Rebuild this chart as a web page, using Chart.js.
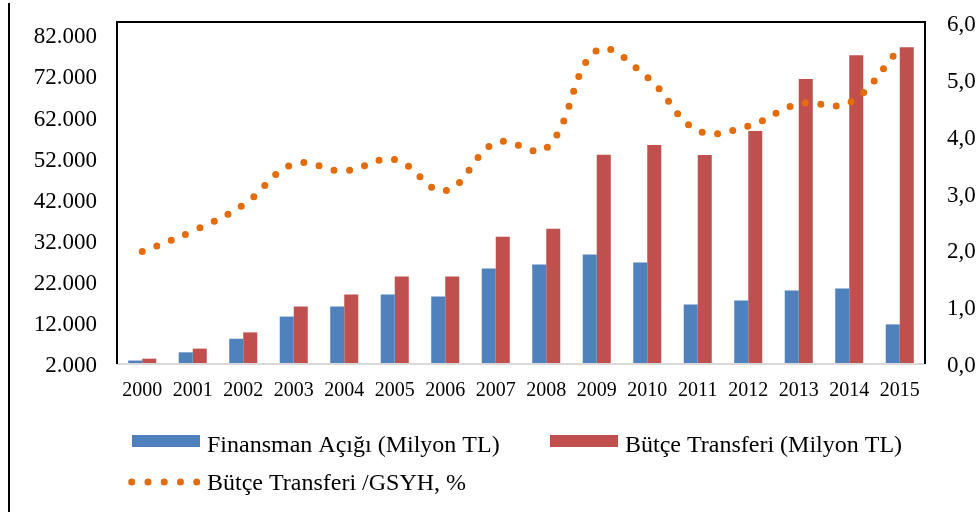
<!DOCTYPE html>
<html>
<head>
<meta charset="utf-8">
<script src="https://cdn.jsdelivr.net/npm/chart.js@4"></script>
<style>
html,body{margin:0;padding:0;background:#fff;}
#wrap{position:relative;width:979px;height:512px;}
</style>
</head>
<body>
<div id="wrap"><canvas id="c" width="979" height="512"></canvas></div>
<script>
const years = ['2000','2001','2002','2003','2004','2005','2006','2007','2008','2009','2010','2011','2012','2013','2014','2015'];
const finansmanAcigi = [2600, 4600, 7900, 13300, 15750, 18700, 18200, 25000, 26000, 28400, 26450, 16250, 17200, 19650, 20150, 11400];
const butceTransferi = [3050, 5500, 9450, 15750, 18700, 23050, 23050, 32750, 34700, 52700, 55050, 52600, 58450, 71100, 76900, 78850];
const transferGsyh = [1.96, 2.32, 2.78, 3.50, 3.38, 3.58, 3.03, 3.88, 3.78, 5.50, 5.03, 4.09, 4.17, 4.56, 4.58, 5.53];
const leftTicks = [2000, 12000, 22000, 32000, 42000, 52000, 62000, 72000, 82000];
const rightTicks = [0, 1, 2, 3, 4, 5, 6];
const seriesNames = ['Finansman Açığı (Milyon TL)', 'Bütçe Transferi (Milyon TL)', 'Bütçe Transferi /GSYH, %'];

const BLUE = '#4F81BD', RED = '#C0504D', ORANGE = '#E46C0A';
const FONT = "'Times New Roman', 'Liberation Serif', serif";

function fmtThousands(v){
  return String(Math.round(v)).replace(/\B(?=(\d{3})+(?!\d))/g, '.');
}

const framePlugin = {
  id: 'frame',
  afterDatasetsDraw(chart){
    const {ctx, chartArea: a} = chart;
    ctx.save();
    ctx.strokeStyle = '#D9D9D9';
    ctx.lineWidth = 2;
    ctx.beginPath();
    ctx.moveTo(a.left, a.bottom + 1);
    ctx.lineTo(a.right, a.bottom + 1);
    ctx.stroke();
    ctx.strokeStyle = '#000';
    ctx.lineWidth = 2;
    ctx.beginPath();
    ctx.moveTo(a.left, a.bottom + 1);
    ctx.lineTo(a.left, a.top);
    ctx.lineTo(a.right, a.top);
    ctx.lineTo(a.right, a.bottom + 1);
    ctx.stroke();
    ctx.beginPath();
    ctx.moveTo(9, 3);
    ctx.lineTo(9, 512);
    ctx.stroke();
    ctx.restore();
  },
  afterDraw(chart){
    const ctx = chart.ctx;
    const ds = chart.data.datasets;
    ctx.save();
    ctx.font = '24px ' + FONT;
    ctx.textBaseline = 'alphabetic';
    ctx.fillStyle = ds[0].backgroundColor;
    ctx.fillRect(132, 435, 68, 12);
    ctx.fillStyle = '#000';
    ctx.fillText(ds[0].label, 207, 452);
    ctx.fillStyle = ds[1].backgroundColor;
    ctx.fillRect(550, 435, 68, 12);
    ctx.fillStyle = '#000';
    ctx.fillText(ds[1].label, 625, 452);
    ctx.strokeStyle = ds[2].borderColor;
    ctx.lineWidth = 7;
    ctx.lineCap = 'round';
    ctx.setLineDash([0, 16.25]);
    ctx.beginPath();
    ctx.moveTo(131.7, 482);
    ctx.lineTo(197, 482);
    ctx.stroke();
    ctx.setLineDash([]);
    ctx.fillStyle = '#000';
    ctx.fillText(ds[2].label, 207, 489.5);
    ctx.restore();
  }
};

new Chart(document.getElementById('c'), {
  data: {
    labels: years,
    datasets: [
      {type: 'bar', label: seriesNames[0], data: finansmanAcigi, backgroundColor: BLUE, yAxisID: 'y', order: 2,
       categoryPercentage: 0.555, barPercentage: 1.0},
      {type: 'bar', label: seriesNames[1], data: butceTransferi, backgroundColor: RED, yAxisID: 'y', order: 2,
       categoryPercentage: 0.555, barPercentage: 1.0},
      {type: 'line', label: seriesNames[2], data: transferGsyh, borderColor: ORANGE, backgroundColor: ORANGE,
       yAxisID: 'y1', order: 0, borderWidth: 7, borderDash: [0, 15.6], borderCapStyle: 'round',
       pointRadius: 0, tension: 0.4, fill: false}
    ]
  },
  options: {
    responsive: false,
    animation: false,
    events: [],
    layout: {padding: {top: 22, left: 0, right: 0, bottom: 0}},
    plugins: {legend: {display: false}, tooltip: {enabled: false}},
    scales: {
      x: {
        position: 'bottom',
        offset: true,
        grid: {display: false, drawTicks: false},
        border: {display: false},
        ticks: {font: {family: FONT, size: 20}, color: '#000', padding: 16, maxRotation: 0, autoSkip: false},
        afterFit(s){ s.height = 149; }
      },
      y: {
        position: 'left',
        min: 2000, max: 85000,
        grid: {display: false, drawTicks: true, tickLength: 20},
        border: {display: false},
        ticks: {font: {family: FONT, size: 23}, color: '#000', padding: 0, stepSize: 10000, labelOffset: 3,
                callback: v => fmtThousands(v)},
        afterBuildTicks(s){ s.ticks = leftTicks.map(v => ({value: v})); },
        afterFit(s){ s.width = 117; }
      },
      y1: {
        position: 'right',
        min: 0, max: 6,
        grid: {display: false, drawTicks: true, tickLength: 22},
        border: {display: false},
        ticks: {font: {family: FONT, size: 23}, color: '#000', padding: 0, stepSize: 1, labelOffset: 3,
                callback: v => Number(v).toFixed(1).replace('.', ',')},
        afterBuildTicks(s){ s.ticks = rightTicks.map(v => ({value: v})); },
        afterFit(s){ s.width = 54; }
      }
    }
  },
  plugins: [framePlugin]
});
</script>
</body>
</html>
